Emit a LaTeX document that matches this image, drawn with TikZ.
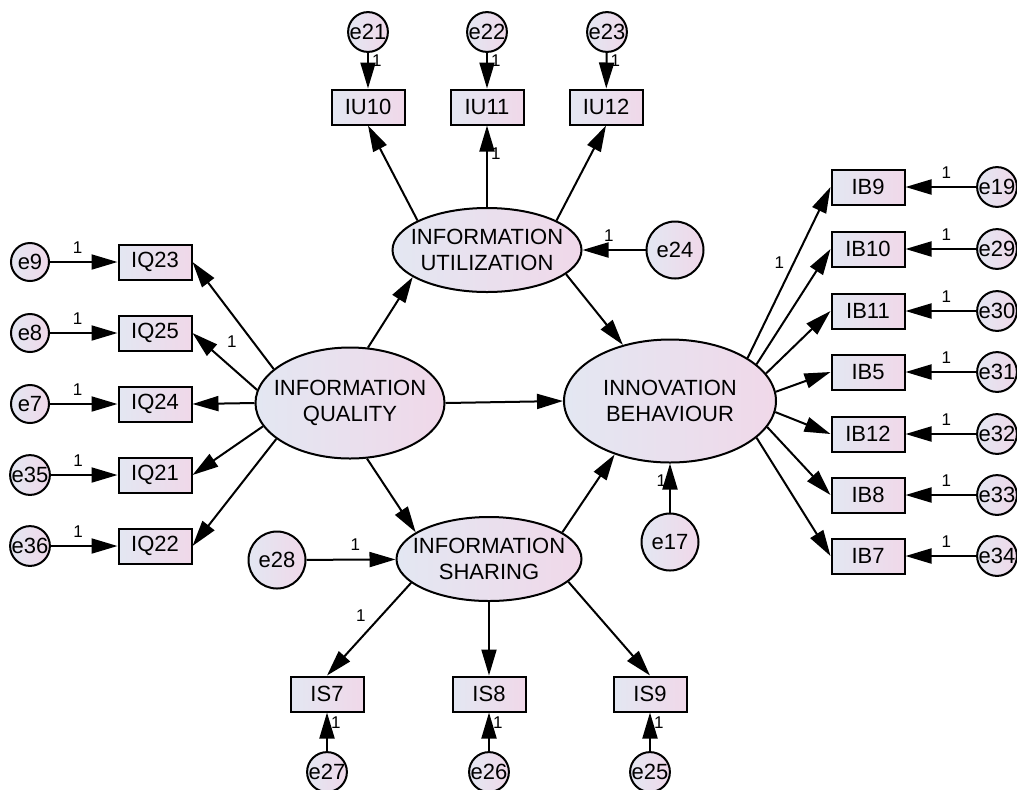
\documentclass[tikz,border=0pt]{standalone}
\usepackage{fontspec}
\setmainfont{Liberation Sans}
\usetikzlibrary{arrows.meta, quotes, shapes.geometric}
\definecolor{semleft}{RGB}{227,231,242}
\definecolor{semright}{RGB}{240,216,233}
\tikzset{SEMPath/.style={
    x = 0.5pt, y = -0.5pt,
    font = \fontsize{11}{13}\selectfont,
    base/.style = {draw, line width=1pt, left color=semleft, right color=semright, inner sep=0pt},
    observed/.style = {base, rectangle, minimum width=36.5pt, minimum height=17.5pt},
    latent/.style = {base, ellipse},
    error/.style = {base, circle, minimum size=19pt},
    residual/.style = {base, circle, minimum size=28.5pt},
    one/.style = {font=\fontsize{8.5}{9}\selectfont, inner sep=1.5pt},
    paths/.style = {line width=1pt, every edge/.append style={arrows=-{Triangle[length=13pt, width=7.5pt]}}},
    every edge quotes/.style = {one},
    every label/.style = {align=center}
}}

\begin{document}
\begin{tikzpicture}[SEMPath]
    \useasboundingbox (0,0) rectangle (1017,789);

    % latent variables
    \node [latent, minimum width=94.5pt, minimum height=55.5pt,
        label={center:{INFORMATION\\QUALITY}}] (IQ) at (350,403) {};
    \node [latent, minimum width=94.5pt, minimum height=42pt,
        label={center:{INFORMATION\\UTILIZATION}}] (IU) at (487,250) {};
    \node [latent, minimum width=92.5pt, minimum height=42pt,
        label={center:{INFORMATION\\SHARING}}] (IS) at (489,559) {};
    \node [latent, minimum width=106pt, minimum height=61.5pt,
        label={center:{INNOVATION\\BEHAVIOUR}}] (IB) at (670,401) {};

    % information utilization items
    \node [observed] (IU10) at (368,107) {IU10};
    \node [observed] (IU11) at (487,107) {IU11};
    \node [observed] (IU12) at (606,107) {IU12};
    \node [error] (e21) at (368,32) {e21};
    \node [error] (e22) at (487,32) {e22};
    \node [error] (e23) at (607,32) {e23};
    \node [residual] (e24) at (675,250) {e24};

    % information quality items
    \node [observed] (IQ23) at (155,262) {IQ23};
    \node [observed] (IQ25) at (155,333) {IQ25};
    \node [observed] (IQ24) at (155,404) {IQ24};
    \node [observed] (IQ21) at (155,475) {IQ21};
    \node [observed] (IQ22) at (155,546) {IQ22};
    \node [error] (e9) at (30,262) {e9};
    \node [error] (e8) at (30,333) {e8};
    \node [error] (e7) at (30,404) {e7};
    \node [error] (e35) at (30,475) {e35};
    \node [error] (e36) at (30,546) {e36};

    % innovation behaviour items
    \node [observed] (IB9) at (868,187) {IB9};
    \node [observed] (IB10) at (868,249) {IB10};
    \node [observed] (IB11) at (868,311) {IB11};
    \node [observed] (IB5) at (868,372) {IB5};
    \node [observed] (IB12) at (868,434) {IB12};
    \node [observed] (IB8) at (868,495) {IB8};
    \node [observed] (IB7) at (868,556) {IB7};
    \node [error] (e19) at (997,187) {e19};
    \node [error] (e29) at (997,249) {e29};
    \node [error] (e30) at (997,311) {e30};
    \node [error] (e31) at (997,372) {e31};
    \node [error] (e32) at (997,434) {e32};
    \node [error] (e33) at (997,495) {e33};
    \node [error] (e34) at (997,556) {e34};
    \node [residual] (e17) at (670,542) {e17};

    % information sharing items
    \node [observed] (IS7) at (327,694) {IS7};
    \node [observed] (IS8) at (489,694) {IS8};
    \node [observed] (IS9) at (650,694) {IS9};
    \node [error] (e27) at (327,772) {e27};
    \node [error] (e26) at (489,772) {e26};
    \node [error] (e25) at (650,772) {e25};
    \node [residual] (e28) at (277,560) {e28};

    \draw [paths]
    % structural paths
    (IQ.72) edge (IU.200)
    (IQ.east) edge (IB.west)
    (IQ.287) edge (IS.160)
    (IU.343) edge (IB.130)
    (IS.20) edge (IB.224)
    (e24) edge ["1" {pos=.58, above=2.5pt}] (IU)
    (e28) edge ["1" {pos=.55, above=2.5pt}] (IS)
    (e17) edge ["1" {pos=.66, left=0pt}] (IB)
    % utilization
    (IU.157) edge (IU10.south)
    (IU.north) edge ["1" {pos=.66, right}] (IU11.south)
    (IU.23) edge (IU12.south)
    (e21) edge ["1" {pos=.21, right}] (IU10)
    (e22) edge ["1" {pos=.21, right}] (IU11)
    (e23) edge ["1" {pos=.21, right}] (IU12)
    % quality
    (IQ.156) edge (IQ23.east)
    (IQ.172) edge ["1" {pos=.39, above=8pt}] (IQ25.east)
    (IQ.west) edge (IQ24.east)
    (IQ.195) edge (IQ21.east)
    (IQ.206) edge (IQ22.east)
    (e9) edge ["1" {pos=.41, above=2.5pt}] (IQ23)
    (e8) edge ["1" {pos=.41, above=2.5pt}] (IQ25)
    (e7) edge ["1" {pos=.41, above=2.5pt}] (IQ24)
    (e35) edge ["1" {pos=.41, above=2.5pt}] (IQ21)
    (e36) edge ["1" {pos=.41, above=2.5pt}] (IQ22)
    % behaviour
    (IB.29) edge ["1" {pos=.56, left=3pt}] (IB9.west)
    (IB.23) edge (IB10.west)
    (IB.16) edge (IB11.west)
    (IB.5) edge (IB5.west)
    (IB.354) edge (IB12.west)
    (IB.345) edge (IB8.west)
    (IB.337) edge (IB7.west)
    (e19) edge ["1" {pos=.42, above=2.5pt}] (IB9)
    (e29) edge ["1" {pos=.42, above=2.5pt}] (IB10)
    (e30) edge ["1" {pos=.42, above=2.5pt}] (IB11)
    (e31) edge ["1" {pos=.42, above=2.5pt}] (IB5)
    (e32) edge ["1" {pos=.42, above=2.5pt}] (IB12)
    (e33) edge ["1" {pos=.42, above=2.5pt}] (IB8)
    (e34) edge ["1" {pos=.42, above=2.5pt}] (IB7)
    % sharing
    (IS.197) edge ["1" {pos=.35, left=6pt}] (IS7.north)
    (IS.south) edge (IS8.north)
    (IS.344) edge (IS9.north)
    (e27) edge ["1" {pos=.73, right}] (IS7)
    (e26) edge ["1" {pos=.73, right}] (IS8)
    (e25) edge ["1" {pos=.73, right}] (IS9);
\end{tikzpicture}
\end{document}
